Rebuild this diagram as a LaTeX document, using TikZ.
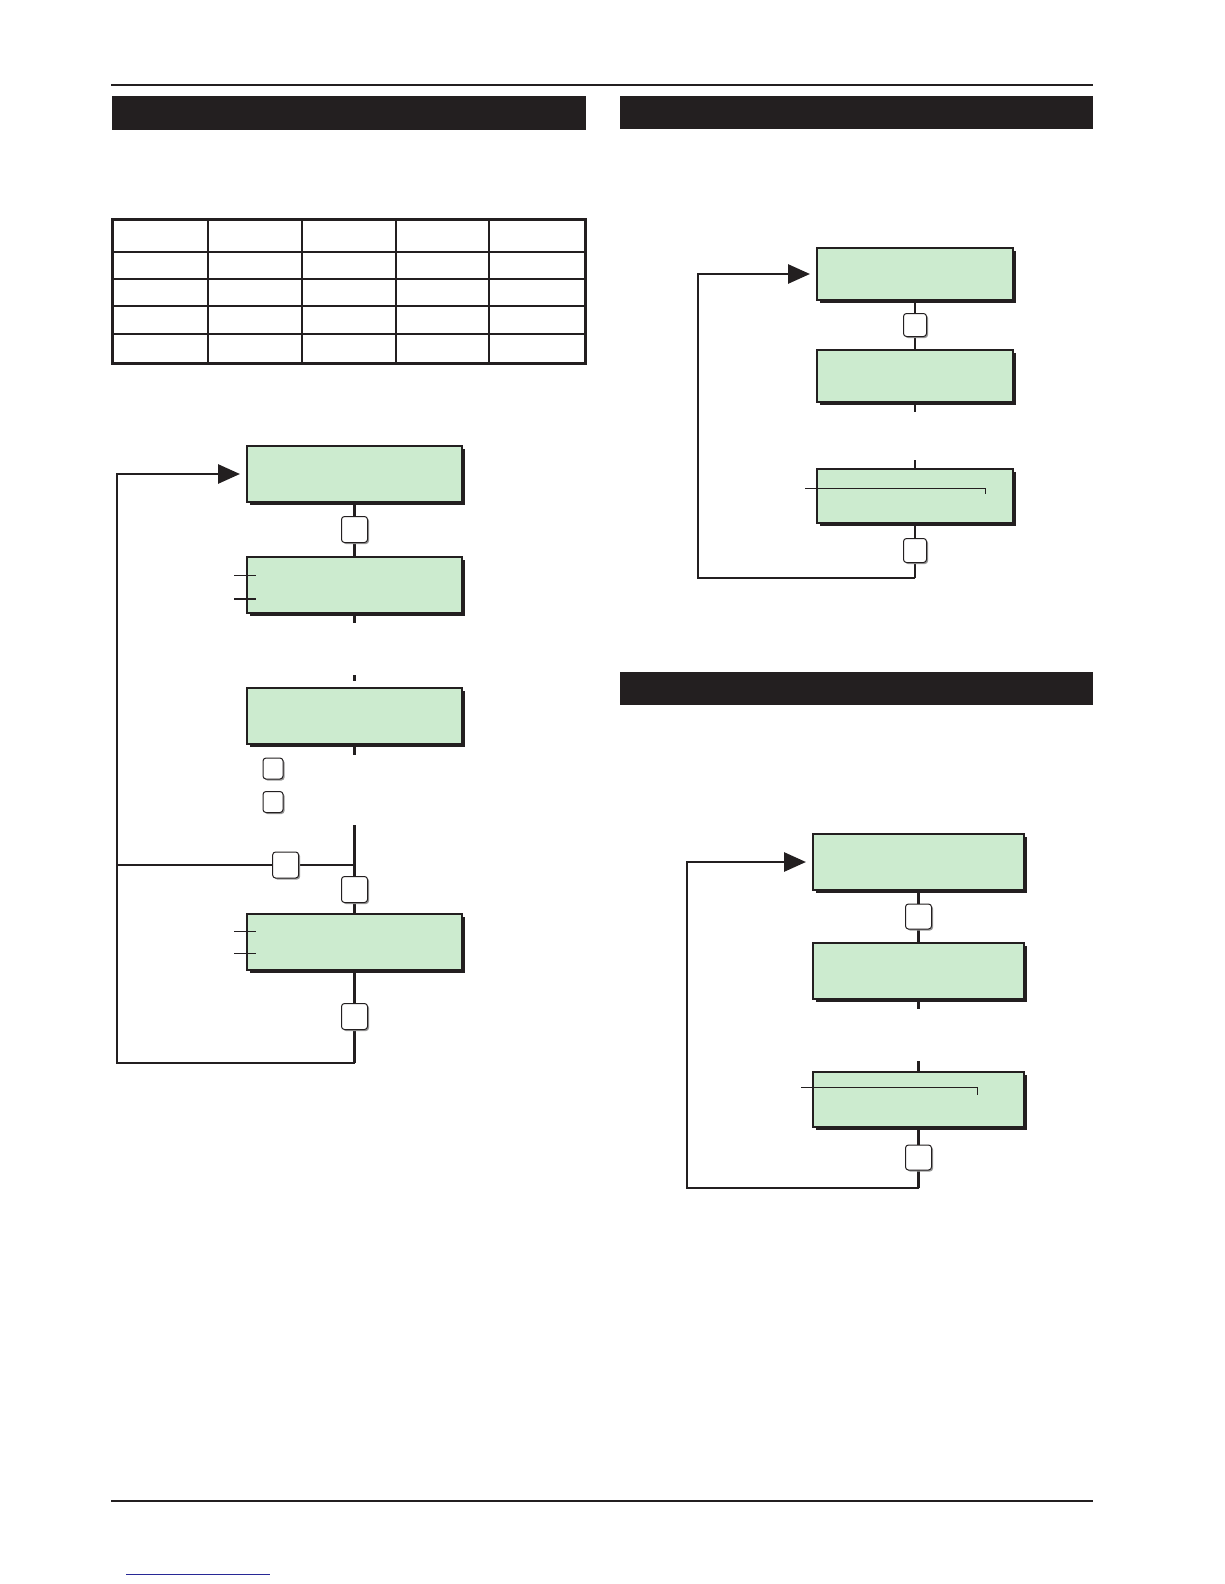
\documentclass[tikz,border=0pt]{standalone}
\usepackage{xcolor}
\usepackage{tikz}
\usetikzlibrary{positioning,arrows.meta,shadows}
\definecolor{lcdgreen}{RGB}{204,235,207}
\definecolor{bardark}{RGB}{35,31,32}
\definecolor{linkblue}{RGB}{40,40,150}

\begin{document}
\begin{tikzpicture}[
    x=1pt, y=-1pt,
    screen/.style={rectangle, draw=bardark, line width=2pt, fill=lcdgreen, inner sep=0pt, outer sep=0pt, minimum width=215pt, minimum height=56pt, general shadow={fill=bardark, shadow xshift=3pt, shadow yshift=-3pt}},
    keybox/.style={rectangle, rounded corners=3pt, draw=bardark, line width=1pt, fill=white, inner sep=0pt, minimum width=26pt, minimum height=26pt, general shadow={fill=black!40, shadow xshift=1.5pt, shadow yshift=-1.5pt}},
    smallkey/.style={keybox, minimum width=20pt, minimum height=21pt},
    flow/.style={draw=bardark, line width=2.8pt},
    loop/.style={-{Triangle[length=22pt, width=19pt]}, draw=bardark, line width=2.8pt, shorten >=7pt},
    tick/.style={draw=bardark, line width=1pt},
    bar/.style={fill=bardark},
    rule/.style={draw=bardark, line width=2pt}
  ]
    \useasboundingbox (0,0) rectangle (1224,1584);

    \draw[rule] (111,85) -- (1093,85);
    \draw[rule] (111,1501) -- (1093,1501);
    \draw[linkblue, line width=1pt] (126,1574) -- (270,1574);

    \fill[bar] (112,96) rectangle (586,130);
    \fill[bar] (620,96) rectangle (1093,129);
    \fill[bar] (620,672) rectangle (1093,705);

    \draw[draw=bardark, line width=1.3pt] (208,219) -- (208,363) (302,219) -- (302,363) (396,219) -- (396,363) (489,219) -- (489,363);
    \draw[draw=bardark, line width=1.3pt] (112,252) -- (585,252) (112,279) -- (585,279) (112,306) -- (585,306) (112,334) -- (585,334);
    \draw[draw=bardark, line width=3pt] (112,219) rectangle (585,363);

    \node[screen] (scrA) at (354.5,474) {};
    \node[screen, below=55pt of scrA] (scrB) {};
    \node[screen, below=75pt of scrB] (scrC) {};
    \node[screen, below=170pt of scrC] (scrD) {};

    \coordinate (joinL) at (354.5,825);
    \coordinate (branchL) at (354.5,865);
    \coordinate (cornerL) at (354.5,1063);
    \coordinate (sideL) at (117,1063);

    \draw[flow] (scrA) -- node[keybox] (keyA) {} (scrB);
    \draw[flow] (scrB.south) -- ++(0,10);
    \draw[flow] (354.5,675) -- (354.5,681);
    \draw[flow] (scrC.south) -- ++(0,11);
    \node[smallkey] (keyB) at (273,768.5) {};
    \node[smallkey] (keyC) at (273,802) {};
    \draw[flow] (joinL) -- (branchL) -- node[keybox] (keyE) {} (scrD);
    \draw[flow] (branchL) -- node[keybox, pos=0.29] (keyD) {} (117,865);
    \draw[flow] (scrD) -- node[keybox] (keyF) {} (cornerL);
    \draw[loop] (cornerL) -- (sideL) |- (scrA.west);

    \draw[tick, line width=0.8pt] (234,575) -- (256,575);
    \draw[tick, line width=1.2pt] (234,599) -- (256,599);
    \draw[tick] (234,931) -- (256,931);
    \draw[tick] (234,953) -- (256,953);

    \node[screen, minimum width=196pt, minimum height=52pt] (setA) at (915,274) {};
    \node[screen, minimum width=196pt, minimum height=52pt, below=50pt of setA] (setB) {};
    \node[screen, minimum width=196pt, minimum height=54pt, below=67pt of setB] (setC) {};

    \draw[flow] (setA) -- node[keybox, minimum width=23pt, minimum height=23pt] (setKeyA) {} (setB);
    \draw[flow] (setB.south) -- ++(0,10);
    \draw[flow] (setC.north) -- ++(0,-9);
    \draw[flow] (setC) -- node[keybox, minimum width=23pt, minimum height=24pt] (setKeyB) {} (915,578);
    \draw[loop] (915,578) -- (698,578) |- (setA.west);
    \draw[tick] (805,488) -- (985,488) -- (985,494);

    \node[screen, minimum width=211pt] (codeA) at (918.5,862) {};
    \node[screen, minimum width=211pt, below=53pt of codeA] (codeB) {};
    \node[screen, minimum width=211pt, minimum height=55pt, below=73pt of codeB] (codeC) {};

    \draw[flow] (codeA) -- node[keybox, minimum height=25pt] (codeKeyA) {} (codeB);
    \draw[flow] (codeB.south) -- ++(0,10);
    \draw[flow] (codeC.north) -- ++(0,-11);
    \draw[flow] (codeC) -- node[keybox, minimum height=25pt] (codeKeyB) {} (918.5,1188);
    \draw[loop] (918.5,1188) -- (687,1188) |- (codeA.west);
    \draw[tick] (801,1087) -- (977,1087) -- (977,1095);
  \end{tikzpicture}
\end{document}
